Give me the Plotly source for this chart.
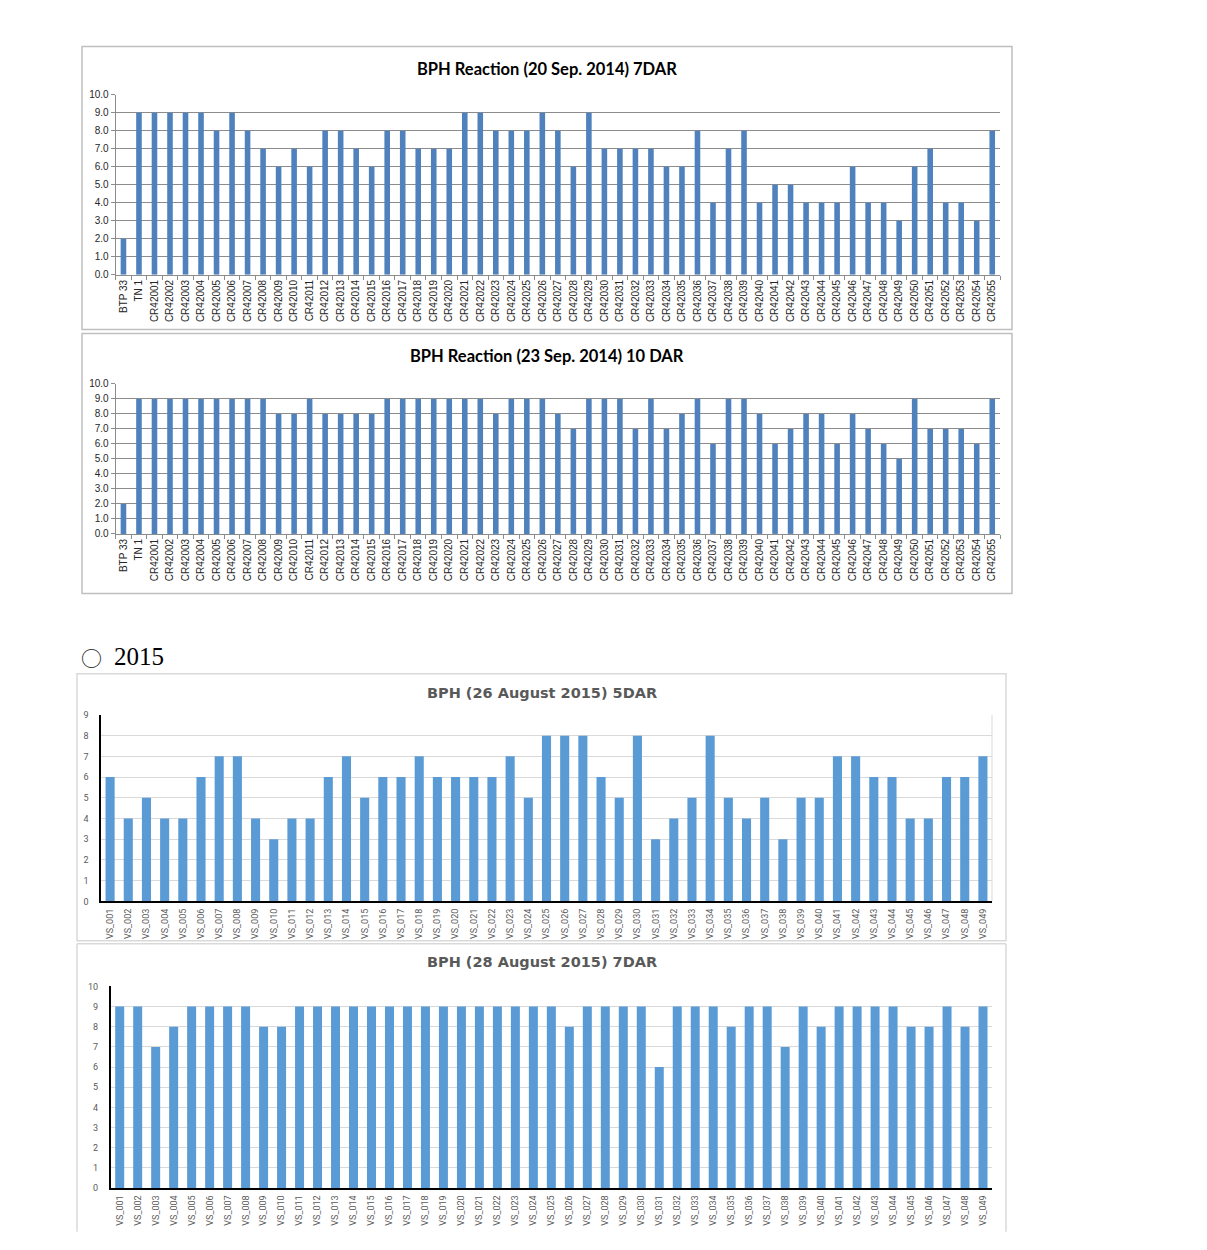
import plotly.graph_objects as go

W, H = 1207, 1250

# ---------------- data ----------------
cats_2014 = ["BTP 33", "TN 1"] + ["CR42%03d" % i for i in range(1, 56)]
vals_20sep_7dar = [2, 9, 9, 9, 9, 9, 8, 9, 8, 7, 6, 7, 6, 8, 8, 7, 6, 8, 8, 7,
                   7, 7, 9, 9, 8, 8, 8, 9, 8, 6, 9, 7, 7, 7, 7, 6, 6, 8, 4, 7,
                   8, 4, 5, 5, 4, 4, 4, 6, 4, 4, 3, 6, 7, 4, 4, 3, 8]
vals_23sep_10dar = [2, 9, 9, 9, 9, 9, 9, 9, 9, 9, 8, 8, 9, 8, 8, 8, 8, 9, 9, 9,
                    9, 9, 9, 9, 8, 9, 9, 9, 8, 7, 9, 9, 9, 7, 9, 7, 8, 9, 6, 9,
                    9, 8, 6, 7, 8, 8, 6, 8, 7, 6, 5, 9, 7, 7, 7, 6, 9]
cats_2015 = ["VS_%03d" % i for i in range(1, 50)]
vals_26aug_5dar = [6, 4, 5, 4, 4, 6, 7, 7, 4, 3, 4, 4, 6, 7, 5, 6, 6, 7, 6, 6,
                   6, 6, 7, 5, 8, 8, 8, 6, 5, 8, 3, 4, 5, 8, 5, 4, 5, 3, 5, 5,
                   7, 7, 6, 6, 4, 4, 6, 6, 7]
vals_28aug_7dar = [9, 9, 7, 8, 9, 9, 9, 9, 8, 8, 9, 9, 9, 9, 9, 9, 9, 9, 9, 9,
                   9, 9, 9, 9, 9, 8, 9, 9, 9, 9, 6, 9, 9, 9, 8, 9, 9, 7, 9, 8,
                   9, 9, 9, 9, 8, 8, 9, 8, 9]

titles = ["BPH Reaction (20 Sep. 2014) 7DAR",
          "BPH Reaction (23 Sep. 2014) 10 DAR",
          "BPH (26 August 2015) 5DAR",
          "BPH (28 August 2015) 7DAR"]


def px_x(x):
    return x / W


def px_y(y):
    # small correction for the vertical scale seen in the rendered page
    y = (y - 5.5) / 0.991
    return 1 - y / H


fig = go.Figure()

# plot areas (left, right, top, bottom) in pixels
plots = [
    (115.7, 1000, 94.3, 274.3),
    (115.7, 1000, 383.3, 533.3),
    (101, 992, 714.3, 900.7),
    (110.7, 992, 985.7, 1187.3),
]
boxes = [
    (82, 1012, 46, 329),
    (82, 1012, 333, 593),
    (77, 1006, 673, 940),
    (77, 1006, 943, 1231),
]
title_y = [68, 355, 692, 961]

series = [
    (cats_2014, vals_20sep_7dar, "#4F81BD", 0.36),
    (cats_2014, vals_23sep_10dar, "#4F81BD", 0.36),
    (cats_2015, vals_26aug_5dar, "#5B9BD5", 0.5),
    (cats_2015, vals_28aug_7dar, "#5B9BD5", 0.5),
]

shapes = []
annotations = []
layout_axes = {}

for i, ((cats, vals, col, bw), (l, r, t, b), (bl, br, bt, bb), ty, title) in enumerate(
        zip(series, plots, boxes, title_y, titles)):
    n = "" if i == 0 else str(i + 1)
    fig.add_trace(go.Bar(x=cats, y=vals, marker_color=col, width=bw,
                         xaxis="x" + n, yaxis="y" + n, showlegend=False,
                         marker_line_width=0))
    old = i < 2
    xa = dict(domain=[px_x(l), px_x(r)], anchor="y" + n, type="category",
              tickangle=-90, showgrid=False, fixedrange=True)
    ya = dict(domain=[px_y(b), px_y(t)], anchor="x" + n, showgrid=True,
              dtick=1, tick0=0, fixedrange=True, zeroline=False)
    if old:
        xa.update(showline=True, linecolor="#8C8C8C", linewidth=1,
                  ticks="outside", tickson="boundaries", ticklen=4,
                  tickcolor="#8C8C8C",
                  tickfont=dict(family="Liberation Sans", size=10, color="#262626"))
        ya.update(range=[0, 10], tickformat=".1f", gridcolor="#8C8C8C",
                  showline=True, linecolor="#8C8C8C", ticks="outside",
                  ticklen=4, tickcolor="#8C8C8C",
                  tickfont=dict(family="Liberation Sans", size=10, color="#262626"))
        tfont = dict(family="Lato", size=16.5, color="#000000")
        bcol = "#BFBFBF"
    else:
        xa.update(showline=True, linecolor="#000000", linewidth=1.5,
                  ticks="", ticklabelstandoff=2,
                  tickfont=dict(family="Roboto", size=9, color="#595959"))
        ya.update(range=[0, 9] if i == 2 else [0, 10], gridcolor="#D9D9D9",
                  showline=True, linecolor="#000000", linewidth=1.5, ticks="",
                  ticklabelstandoff=9,
                  tickfont=dict(family="Roboto", size=9, color="#595959"))
        tfont = dict(family="DejaVu Sans", size=14.5, color="#595959")
        bcol = "#D9D9D9"
    layout_axes["xaxis" + n] = xa
    layout_axes["yaxis" + n] = ya

    # chart box
    if i < 3:
        shapes.append(dict(type="rect", xref="paper", yref="paper",
                           x0=px_x(bl), x1=px_x(br), y0=px_y(bb), y1=px_y(bt),
                           line=dict(color=bcol, width=1.5), layer="below"))
    else:
        for (x0, y0, x1, y1) in [(bl, bt, br, bt), (bl, bt, bl, bb), (br, bt, br, bb)]:
            shapes.append(dict(type="line", xref="paper", yref="paper",
                               x0=px_x(x0), x1=px_x(x1), y0=px_y(y0), y1=px_y(y1),
                               line=dict(color=bcol, width=1.5), layer="below"))
    annotations.append(dict(text="<b>%s</b>" % title, xref="paper", yref="paper",
                            x=px_x((bl + br) / 2), y=px_y(ty), xanchor="center",
                            yanchor="middle", showarrow=False, font=tfont))

# faint right edge of the 26 August plot area
shapes.append(dict(type="line", xref="paper", yref="paper",
                   x0=px_x(992), x1=px_x(992), y0=px_y(900.7), y1=px_y(714.3),
                   line=dict(color="#D9D9D9", width=1), layer="below"))

annotations.append(dict(text="○", xref="paper", yref="paper",
                        x=px_x(91), y=px_y(656), xanchor="center", yanchor="middle",
                        showarrow=False,
                        font=dict(family="Noto Sans CJK KR", size=21, color="#222222")))
annotations.append(dict(text="2015", xref="paper", yref="paper",
                        x=px_x(112), y=px_y(656), xanchor="left", yanchor="middle",
                        showarrow=False,
                        font=dict(family="Liberation Serif", size=25, color="#000000")))

fig.update_layout(width=W, height=H, margin=dict(l=0, r=0, t=0, b=0),
                  paper_bgcolor="white", plot_bgcolor="white",
                  shapes=shapes, annotations=annotations, **layout_axes)

fig.write_html("out.html")
